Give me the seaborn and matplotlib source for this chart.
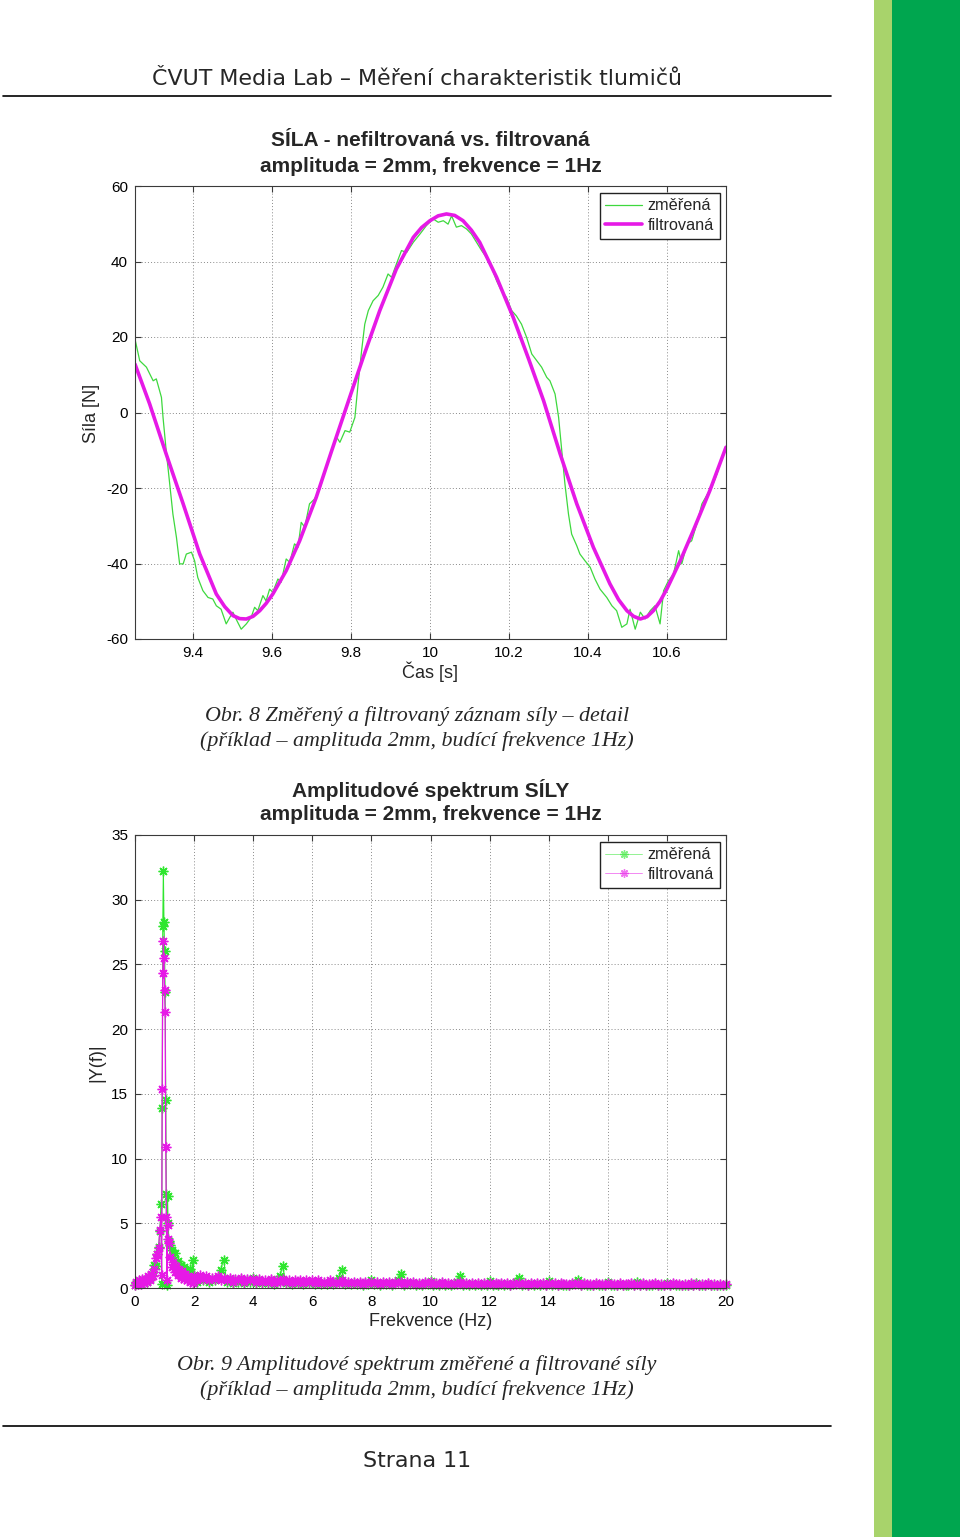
import numpy as np
import pandas as pd
import matplotlib
matplotlib.use("Agg")
import matplotlib.pyplot as plt
import seaborn as sns
from matplotlib.lines import Line2D
from matplotlib.patches import Rectangle

# ---------------- data: force, time domain ----------------
t_meas = [9.252, 9.265, 9.282, 9.299, 9.307, 9.320, 9.324, 9.332, 9.341, 9.349,
          9.358, 9.366, 9.375, 9.383, 9.396, 9.404, 9.412, 9.425, 9.438, 9.450,
          9.459, 9.471, 9.484, 9.493, 9.501, 9.509, 9.522, 9.535, 9.547, 9.556,
          9.564, 9.577, 9.585, 9.594, 9.602, 9.615, 9.623, 9.636, 9.645, 9.657,
          9.666, 9.674, 9.683, 9.695, 9.708, 9.721, 9.737, 9.750,
          9.764, 9.772, 9.785, 9.797, 9.810, 9.818, 9.827, 9.835, 9.844, 9.856,
          9.869, 9.881, 9.894, 9.903, 9.915, 9.928, 9.941, 9.958, 9.975, 9.991,
          10.008, 10.021, 10.034, 10.046, 10.055, 10.067, 10.080, 10.093, 10.105, 10.118,
          10.131, 10.143, 10.156, 10.169, 10.181, 10.194, 10.207, 10.219, 10.232, 10.245,
          10.258, 10.271, 10.283, 10.296, 10.304, 10.317, 10.326, 10.334, 10.342, 10.351,
          10.359, 10.372, 10.380, 10.393, 10.406, 10.418, 10.431, 10.448, 10.461, 10.473,
          10.486, 10.499, 10.507, 10.520, 10.533, 10.545, 10.558, 10.570, 10.583, 10.592,
          10.604, 10.617, 10.630, 10.638, 10.651, 10.663, 10.676, 10.689, 10.701, 10.714,
          10.727, 10.739, 10.750]
f_meas = [19.9, 13.7, 12.0, 8.4, 8.9, 4.0, -1.3, -10.1, -18.9, -26.9,
          -33.1, -40.1, -40.1, -37.5, -37.0, -39.3, -43.7, -47.2, -49.0, -49.4,
          -51.2, -52.1, -56.0, -54.3, -52.9, -54.7, -57.4, -56.0, -54.3, -51.6,
          -52.5, -48.5, -49.9, -46.8, -47.6, -44.1, -45.0, -38.8, -39.7, -34.8,
          -35.7, -29.1, -30.4, -24.2, -22.9, -20.3, -14.5, -10.1,
          -6.6, -7.9, -4.8, -5.2, -1.3, 7.5, 16.4, 23.4, 27.0, 29.6,
          31.0, 33.2, 36.7, 35.8, 39.3, 42.9, 42.4, 45.1, 47.3, 49.5,
          51.3, 50.4, 50.8, 49.9, 52.1, 49.1, 49.5, 48.6, 47.3, 45.1,
          42.9, 41.1, 38.5, 34.9, 32.3, 30.5, 27.0, 25.6, 23.4, 19.9,
          15.5, 13.7, 12.0, 9.3, 8.4, 4.9, -1.3, -10.1, -18.9, -26.9,
          -32.2, -35.3, -37.5, -39.3, -41.0, -44.1, -46.8, -49.0, -51.2, -52.5,
          -56.9, -56.0, -52.1, -57.4, -52.9, -54.7, -52.5, -51.2, -56.0, -47.2,
          -44.6, -42.8, -36.6, -40.1, -34.8, -34.0, -29.5, -24.2, -22.0, -19.8,
          -16.3, -12.3, -9.2]

t_filt = [9.253, 9.290, 9.332, 9.375, 9.417, 9.459, 9.480, 9.501, 9.518, 9.535,
          9.552, 9.569, 9.585, 9.602, 9.636, 9.670, 9.712, 9.750, 9.789, 9.831,
          9.873, 9.915, 9.958, 9.979, 10.000, 10.021, 10.042, 10.063, 10.084, 10.105,
          10.126, 10.169, 10.211, 10.250, 10.288, 10.330, 10.372, 10.414, 10.456, 10.478,
          10.499, 10.516, 10.533, 10.550, 10.566, 10.583, 10.600, 10.634, 10.667, 10.709,
          10.750]
f_filt = [12.8, 2.3, -11.0, -24.2, -37.5, -48.1, -51.4, -53.8, -54.6, -54.7,
          -54.0, -52.5, -50.6, -48.1, -41.9, -34.0, -22.5, -10.5, 1.6, 14.6,
          27.0, 38.0, 46.4, 49.0, 50.8, 52.1, 52.6, 52.2, 50.8, 48.3,
          45.1, 35.8, 25.2, 14.2, 3.1, -11.0, -24.2, -35.7, -45.4, -49.6,
          -52.5, -54.0, -54.7, -54.1, -52.5, -50.0, -46.8, -39.3, -31.3, -20.7,
          -9.2]

t_ticks = [9.4, 9.6, 9.8, 10.0, 10.2, 10.4, 10.6]
t_ticklabels = ["9.4", "9.6", "9.8", "10", "10.2", "10.4", "10.6"]
F_ticks = [-60, -40, -20, 0, 20, 40, 60]

# ---------------- data: amplitude spectrum ----------------
freq_low = [0.00, 0.05, 0.10, 0.15, 0.20, 0.25, 0.30, 0.35, 0.40, 0.45,
            0.50, 0.55, 0.60, 0.65, 0.70, 0.75, 0.80,
            0.84, 0.88, 0.90, 0.92, 0.94, 0.96, 0.98, 1.00, 1.02, 1.04, 1.06, 1.08, 1.10, 1.12,
            1.15, 1.20, 1.25, 1.30, 1.35, 1.40, 1.45, 1.50, 1.55, 1.60, 1.65, 1.70, 1.75,
            1.80, 1.85, 1.90, 1.95]
meas_low = [0.2, 0.4, 0.3, 0.5, 0.3, 0.6, 0.4, 0.6, 0.5, 0.8,
            0.7, 1.0, 1.2, 1.8, 1.7, 2.6, 3.2,
            4.4, 6.5, 0.3, 13.9, 28.0, 32.2, 28.3, 26.0, 22.9, 14.5, 7.3, 0.2, 7.1, 5.0,
            3.6, 3.3, 2.9, 2.4, 2.7, 1.9, 2.1, 1.5, 1.8, 1.2, 1.6, 1.1, 1.4,
            0.8, 1.5, 0.9, 2.2]
filt_low = [0.2, 0.5, 0.3, 0.6, 0.3, 0.7, 0.4, 0.7, 0.5, 0.9,
            0.6, 1.1, 0.9, 1.5, 2.3, 2.6, 3.1,
            4.5, 5.5, 1.0, 15.4, 24.3, 26.8, 25.5, 23.0, 21.3, 10.9, 5.5, 0.6, 4.9, 3.8,
            3.5, 2.4, 1.6, 2.0, 1.2, 1.7, 1.0, 1.4, 0.8, 1.3, 0.7, 1.1, 0.6,
            0.9, 0.5, 0.8, 0.4]

# 2.0 ... 20.0 Hz in 0.1 Hz bins
meas_high = [1.0, 0.5, 0.8, 0.6, 0.7, 0.5, 0.7, 0.6, 0.8, 1.4,
             2.2, 0.5, 0.7, 0.4, 0.6, 0.5, 0.7, 0.4, 0.6, 0.5,
             0.8, 0.4, 0.6, 0.4, 0.5, 0.4, 0.6, 0.3, 0.5, 0.9,
             1.7, 0.4, 0.5, 0.3, 0.5, 0.4, 0.5, 0.3, 0.5, 0.4,
             0.5, 0.3, 0.5, 0.3, 0.4, 0.3, 0.5, 0.3, 0.4, 0.8,
             1.4, 0.3, 0.4, 0.3, 0.4, 0.3, 0.4, 0.2, 0.4, 0.3,
             0.6, 0.3, 0.4, 0.2, 0.4, 0.3, 0.4, 0.2, 0.4, 0.6,
             1.1, 0.2, 0.4, 0.3, 0.4, 0.2, 0.3, 0.2, 0.4, 0.3,
             0.55, 0.2, 0.3, 0.2, 0.4, 0.2, 0.3, 0.2, 0.3, 0.5,
             0.9, 0.2, 0.3, 0.2, 0.3, 0.2, 0.3, 0.2, 0.3, 0.2,
             0.55, 0.2, 0.3, 0.2, 0.3, 0.2, 0.3, 0.2, 0.3, 0.5,
             0.8, 0.2, 0.3, 0.2, 0.3, 0.2, 0.3, 0.2, 0.3, 0.2,
             0.55, 0.2, 0.3, 0.2, 0.3, 0.2, 0.2, 0.2, 0.3, 0.4,
             0.65, 0.2, 0.3, 0.2, 0.2, 0.2, 0.3, 0.2, 0.2, 0.2,
             0.5, 0.2, 0.2, 0.2, 0.3, 0.2, 0.2, 0.2, 0.3, 0.2,
             0.45, 0.2, 0.3, 0.2, 0.2, 0.2, 0.3, 0.2, 0.2, 0.2,
             0.4, 0.2, 0.3, 0.2, 0.2, 0.2, 0.2, 0.2, 0.3, 0.2,
             0.4, 0.2, 0.2, 0.2, 0.3, 0.2, 0.2, 0.2, 0.2, 0.2,
             0.2]
filt_high = [0.9, 0.6, 1.0, 0.7, 0.9, 0.6, 0.8, 0.7, 0.9, 0.6,
             0.8, 0.6, 0.8, 0.5, 0.7, 0.6, 0.8, 0.5, 0.7, 0.6,
             0.7, 0.5, 0.7, 0.5, 0.6, 0.5, 0.7, 0.4, 0.6, 0.5,
             0.7, 0.5, 0.6, 0.4, 0.6, 0.5, 0.6, 0.4, 0.6, 0.5,
             0.6, 0.4, 0.6, 0.4, 0.5, 0.4, 0.6, 0.4, 0.5, 0.4,
             0.6, 0.4, 0.5, 0.4, 0.5, 0.4, 0.5, 0.3, 0.5, 0.4,
             0.5, 0.4, 0.5, 0.3, 0.5, 0.4, 0.5, 0.3, 0.5, 0.4,
             0.5, 0.3, 0.5, 0.4, 0.5, 0.3, 0.4, 0.3, 0.5, 0.4,
             0.5, 0.3, 0.4, 0.3, 0.5, 0.3, 0.4, 0.3, 0.4, 0.3,
             0.5, 0.3, 0.4, 0.3, 0.4, 0.3, 0.4, 0.3, 0.4, 0.3,
             0.4, 0.3, 0.4, 0.3, 0.4, 0.3, 0.4, 0.2, 0.4, 0.3,
             0.4, 0.3, 0.4, 0.2, 0.4, 0.3, 0.4, 0.3, 0.4, 0.2,
             0.4, 0.3, 0.4, 0.2, 0.4, 0.3, 0.3, 0.2, 0.4, 0.3,
             0.4, 0.2, 0.4, 0.3, 0.3, 0.2, 0.4, 0.3, 0.3, 0.2,
             0.4, 0.3, 0.3, 0.2, 0.4, 0.2, 0.3, 0.3, 0.4, 0.2,
             0.3, 0.2, 0.4, 0.2, 0.3, 0.3, 0.4, 0.2, 0.3, 0.2,
             0.3, 0.2, 0.4, 0.3, 0.3, 0.2, 0.3, 0.2, 0.4, 0.2,
             0.3, 0.2, 0.3, 0.2, 0.4, 0.2, 0.3, 0.2, 0.3, 0.2,
             0.3]
freq_high = np.round(2.0 + 0.1 * np.arange(len(meas_high)), 1)

f_ticks = [0, 2, 4, 6, 8, 10, 12, 14, 16, 18, 20]
Y_ticks = [0, 5, 10, 15, 20, 25, 30, 35]

# ---------------- styling ----------------
GREEN_T = "#3ed83e"
GREEN_S = "#2ee62e"
MAGENTA = "#e619e6"

sns.set_style("white")
plt.rcParams["font.family"] = ["Liberation Sans", "DejaVu Sans"]

W, H = 960, 1537
fig = plt.figure(figsize=(W / 100, H / 100), dpi=100)


def fx(x):
    return x / W


def fy(y):
    return 1 - y / H


def style_axes(ax):
    ax.grid(True, color="#8a8a8a", linestyle=(0, (1, 2.2)), linewidth=0.7)
    for s in ax.spines.values():
        s.set_visible(True)
        s.set_color("#3a3a3a")
        s.set_linewidth(0.8)
    ax.tick_params(direction="in", length=4, width=0.8, color="#3a3a3a",
                   top=True, right=True, bottom=True, left=True,
                   labelsize=11, pad=5, labelcolor="black")
    ax.set_xlabel("")
    ax.set_ylabel("")


LEG = dict(loc="upper right", bbox_to_anchor=(1, 1), borderaxespad=0.4,
           fancybox=False, edgecolor="#222222", framealpha=1, fontsize=11.7,
           handlelength=2.25, borderpad=0.35, labelspacing=0.3, handletextpad=0.35)

# ---------------- top chart ----------------
ax1 = fig.add_axes([fx(135), fy(639), 591 / W, 453 / H])
df_meas = pd.DataFrame({"t": t_meas, "F": f_meas})
df_filt = pd.DataFrame({"t": t_filt, "F": f_filt})
sns.lineplot(data=df_meas, x="t", y="F", ax=ax1, color=GREEN_T, linewidth=0.9,
             sort=False, estimator=None, label="změřená")
sns.lineplot(data=df_filt, x="t", y="F", ax=ax1, color=MAGENTA, linewidth=2.6,
             sort=False, estimator=None, label="filtrovaná")
ax1.set_xlim(9.253, 10.75)
ax1.set_ylim(-60, 60)
ax1.set_xticks(t_ticks)
ax1.set_xticklabels(t_ticklabels)
ax1.set_yticks(F_ticks)
ax1.set_yticklabels([str(v) for v in F_ticks])
style_axes(ax1)
ax1.legend(**LEG)

# ---------------- bottom chart ----------------
ax2 = fig.add_axes([fx(135), fy(1288), 591 / W, 453 / H])
star = (8, 2, 0)
df_sm = pd.DataFrame({"f": list(freq_low) + list(freq_high),
                      "Y": list(meas_low) + list(meas_high)})
df_sf = pd.DataFrame({"f": list(freq_low) + list(freq_high),
                      "Y": list(filt_low) + list(filt_high)})
sns.lineplot(data=df_sm, x="f", y="Y", ax=ax2, color=GREEN_S, linewidth=0.8,
             marker=star, markersize=7, markeredgecolor=GREEN_S, markeredgewidth=1.0,
             sort=False, estimator=None, label="změřená", clip_on=False)
sns.lineplot(data=df_sf, x="f", y="Y", ax=ax2, color=MAGENTA, linewidth=0.9,
             marker=star, markersize=7, markeredgecolor=MAGENTA, markeredgewidth=1.0,
             sort=False, estimator=None, label="filtrovaná", clip_on=False)
ax2.set_xlim(0, 20)
ax2.set_ylim(0, 35)
ax2.set_xticks(f_ticks)
ax2.set_xticklabels([str(v) for v in f_ticks])
ax2.set_yticks(Y_ticks)
ax2.set_yticklabels([str(v) for v in Y_ticks])
style_axes(ax2)
leg2 = ax2.legend(**LEG)
for h in leg2.get_lines():
    h.set_linewidth(0.6)
    h.set_alpha(0.6)
    h.set_markersize(6)

# ---------------- texts ----------------
cx_ax = fx(430.5)
TB = dict(ha="center", va="center", fontsize=15, fontweight="bold")
fig.text(cx_ax, fy(141), "SÍLA - nefiltrovaná vs. filtrovaná", **TB)
fig.text(cx_ax, fy(166), "amplituda = 2mm, frekvence = 1Hz", **TB)
fig.text(cx_ax, fy(672), "Čas [s]", ha="center", va="center", fontsize=13)
fig.text(fx(92), fy(413), "Síla [N]", ha="center", va="center", fontsize=13, rotation=90)

fig.text(cx_ax, fy(790), "Amplitudové spektrum SÍLY", **TB)
fig.text(cx_ax, fy(815), "amplituda = 2mm, frekvence = 1Hz", **TB)
fig.text(cx_ax, fy(1321), "Frekvence (Hz)", ha="center", va="center", fontsize=13)
fig.text(fx(97), fy(1063), "|Y(f)|", ha="center", va="center", fontsize=13, rotation=90)

cap = dict(ha="center", va="center", fontsize=15.8, family="Liberation Serif", style="italic")
fig.text(fx(417), fy(716), "Obr. 8 Změřený a filtrovaný záznam síly – detail", **cap)
fig.text(fx(417), fy(741), "(příklad – amplituda 2mm, budící frekvence 1Hz)", **cap)
fig.text(fx(417), fy(1365), "Obr. 9 Amplitudové spektrum změřené a filtrované síly", **cap)
fig.text(fx(417), fy(1390), "(příklad – amplituda 2mm, budící frekvence 1Hz)", **cap)

fig.text(fx(417), fy(79), "ČVUT Media Lab – Měření charakteristik tlumičů", ha="center",
         va="center", fontsize=15.9, family="DejaVu Sans")
fig.text(fx(417), fy(1461), "Strana 11", ha="center", va="center", fontsize=15.9,
         family="DejaVu Sans")

fig.add_artist(Line2D([fx(3), fx(831)], [fy(96), fy(96)], color="black", linewidth=1.2))
fig.add_artist(Line2D([fx(3), fx(831)], [fy(1426), fy(1426)], color="black", linewidth=1.2))

fig.add_artist(Rectangle((fx(874), 0), 18 / W, 1, transform=fig.transFigure,
                         facecolor="#a8d36b", edgecolor="none"))
fig.add_artist(Rectangle((fx(892), 0), 68 / W, 1, transform=fig.transFigure,
                         facecolor="#00a64f", edgecolor="none"))

fig.savefig("out.png", dpi=100)
